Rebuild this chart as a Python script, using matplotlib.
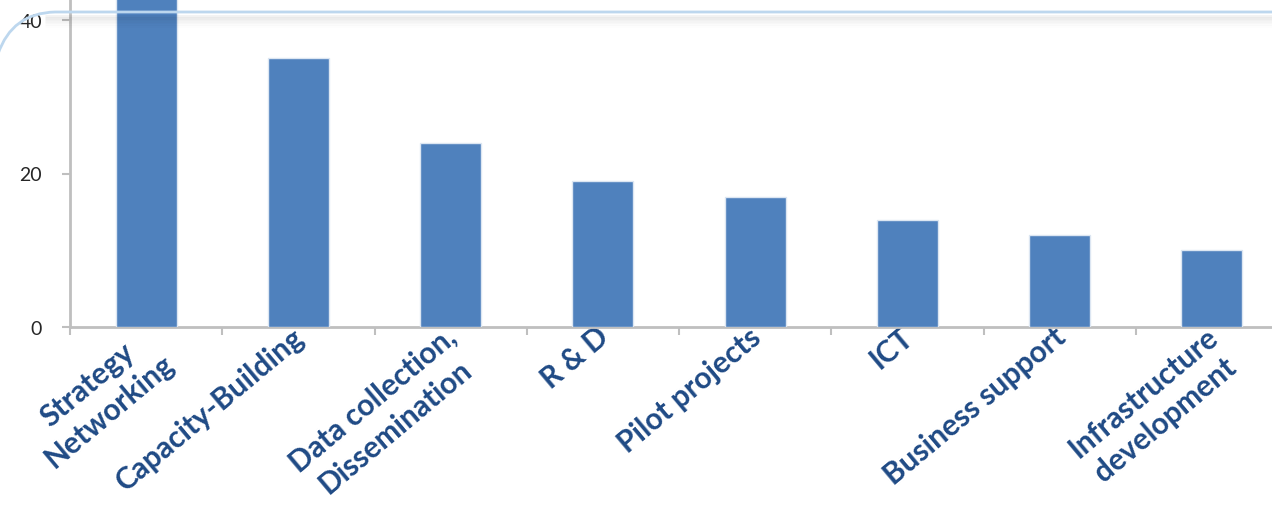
import matplotlib
matplotlib.use("Agg")
import matplotlib.pyplot as plt
from matplotlib.path import Path
from matplotlib.patches import PathPatch
from matplotlib.transforms import ScaledTranslation
import numpy as np

categories = ["Strategy\nNetworking", "Capacity-Building", "Data collection,\nDissemination",
              "R & D", "Pilot projects", "ICT", "Business support", "Infrastructure\ndevelopment"]
values = [46, 35, 24, 19, 17, 14, 12, 10]
yticks = [0, 20, 40]

W, H = 1272, 506
fig = plt.figure(figsize=(W / 100, H / 100), dpi=100)
fig.patch.set_facecolor("white")

# axes placement in pixel terms
x0_px, x1_px = 70, 1288
y0_px = 328
px_per_unit = 7.675
ytop = 50
ytop_px = y0_px - ytop * px_per_unit
ax = fig.add_axes([x0_px / W, (H - y0_px) / H, (x1_px - x0_px) / W, (y0_px - ytop_px) / H])
ax.set_facecolor("none")

x = np.arange(len(categories))
ax.bar(x, values, width=0.4, color="#4F81BD", edgecolor="#DCE6F2", linewidth=1.0, zorder=3)
ax.set_xlim(-0.5, len(categories) - 0.5)
ax.set_ylim(0, ytop)

for s in ["top", "right"]:
    ax.spines[s].set_visible(False)
for s in ["left", "bottom"]:
    ax.spines[s].set_color("#BFBFBF")
    ax.spines[s].set_linewidth(2)

ax.set_yticks(yticks)
ax.set_yticklabels([str(v) for v in yticks], fontsize=14, color="#262626", family="Lato")
ax.tick_params(axis="y", length=6, width=1.5, color="#BFBFBF", pad=14)

ax.set_xticks(x)
ax.set_xticklabels(categories, rotation=40, ha="right", va="top", rotation_mode="anchor",
                   fontsize=21.5, color="#1F4A85", family="Lato", fontweight="bold",
                   multialignment="center", linespacing=1.3)
ax.tick_params(axis="x", length=0, pad=2)
shift = ScaledTranslation(-7 / 100, 8 / 100, fig.dpi_scale_trans)
for lbl in ax.get_xticklabels():
    lbl.set_transform(lbl.get_transform() + shift)
# minor ticks at category boundaries
ax.set_xticks(np.arange(-0.5, len(categories), 1), minor=True)
ax.tick_params(axis="x", which="minor", length=6, width=1.5, color="#BFBFBF", direction="out")

# decorative frame line with shadow
def px(xp, yp):
    return (xp / 100, (H - yp) / 100)

for i, a in enumerate(np.linspace(0.10, 0.0, 8)):
    yy = 17 + i * 1.6
    p = Path([px(45, yy), px(W + 5, yy)])
    fig.add_artist(PathPatch(p, transform=fig.dpi_scale_trans, fill=False,
                             edgecolor=(0, 0, 0, a * 0.5), linewidth=2))

fig.add_artist(PathPatch(Path([px(-2, 55), px(12, 14), px(55, 13), px(W + 5, 13)],
                              [Path.MOVETO, Path.CURVE3, Path.CURVE3, Path.LINETO]),
                         transform=fig.dpi_scale_trans, fill=False,
                         edgecolor="#BDD7EE", linewidth=2))

fig.savefig("out.png", dpi=100, facecolor="white")
